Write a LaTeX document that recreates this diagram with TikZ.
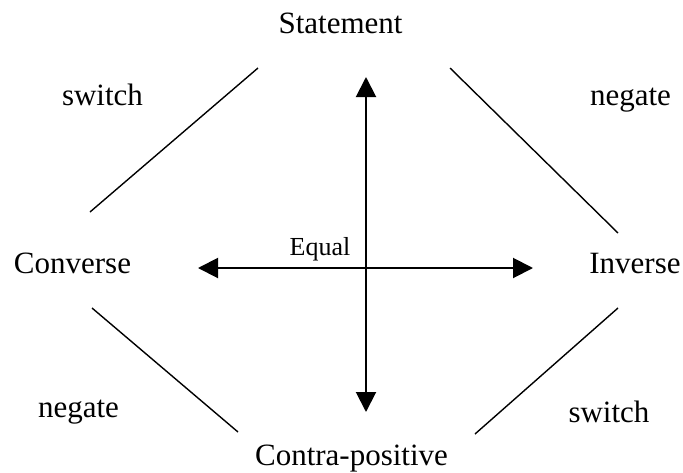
\documentclass[tikz,border=0pt]{standalone}
\usepackage{fontspec}
\setmainfont{Liberation Serif}
\usetikzlibrary{arrows.meta}

\begin{document}
\begin{tikzpicture}[x=1pt, y=-1pt,
	term/.style={anchor=base, inner sep=0pt, font=\fontsize{31}{36}\selectfont},
	rule/.style={anchor=base, inner sep=0pt, font=\fontsize{31}{36}\selectfont},
	small/.style={anchor=base, inner sep=0pt, font=\fontsize{26}{30}\selectfont},
	link/.style={line width=1.4pt},
	arr/.style={{Triangle[length=20pt,width=20pt]}-{Triangle[length=20pt,width=20pt]}, line width=2pt}]
	\useasboundingbox (0,0) rectangle (683,472);
	% the four forms
	\node[term] (stmt) at (340.5,33) {Statement};
	\node[term] (conv) at (72.5,273) {Converse};
	\node[term] (inv) at (635,273) {Inverse};
	\node[term] (contra) at (351.5,465) {Contra-positive};
	% operations
	\node[rule] (swtop) at (102.5,105) {switch};
	\node[rule] (negtop) at (630.5,105) {negate};
	\node[rule] (negbot) at (78.5,417) {negate};
	\node[rule] (swbot) at (609,422) {switch};
	\node[small] (equal) at (320,255) {Equal};
	% line ends
	\coordinate (tl1) at (90,212);
	\coordinate (tl2) at (258,68);
	\coordinate (tr1) at (450,68);
	\coordinate (tr2) at (618,233);
	\coordinate (bl1) at (92,308);
	\coordinate (bl2) at (238,432);
	\coordinate (br1) at (618,308);
	\coordinate (br2) at (475,434);
	\coordinate (vtop) at (366,77);
	\coordinate (vbot) at (366,412);
	\coordinate (hleft) at (198,268);
	\coordinate (hright) at (533,268);
	\draw[link] (tl1) -- (tl2);
	\draw[link] (tr1) -- (tr2);
	\draw[link] (bl1) -- (bl2);
	\draw[link] (br1) -- (br2);
	\draw[arr] (vbot) -- (vtop);
	\draw[arr] (hleft) -- (hright);
\end{tikzpicture}
\end{document}
